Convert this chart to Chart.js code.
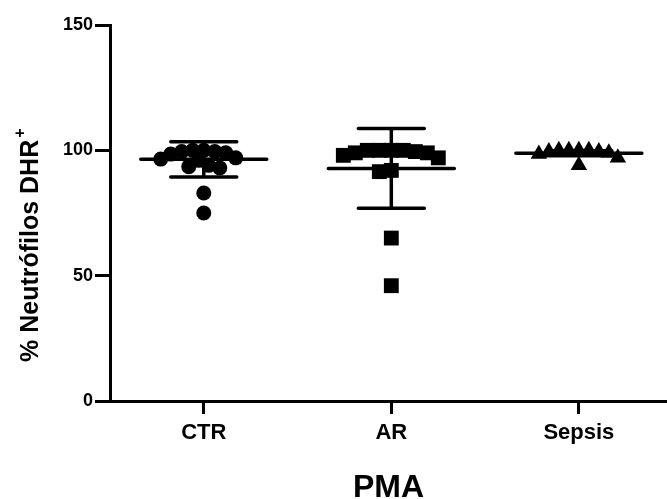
<!DOCTYPE html>
<html>
<head>
<meta charset="utf-8">
<script src="https://cdn.jsdelivr.net/npm/chart.js@4"></script>
<style>
html,body{margin:0;padding:0;background:#fff;overflow:hidden}
#wrap{width:667px;height:499px}
</style>
</head>
<body>
<div id="wrap"><canvas id="c" width="667" height="499"></canvas></div>
<script>
// ---- data ----
const categories = ['CTR', 'AR', 'Sepsis'];
const ctrValues = [100, 99.5, 99, 100, 99.5, 98.5, 97, 96, 96.5, 94, 93.5, 93, 83, 75];
const arValues = [100, 100, 99.5, 100, 99, 100, 99, 98, 97, 92, 91.5, 65, 46];
const sepsisValues = [100, 100, 99.5, 100, 99, 100, 98.5, 99.5, 97, 94];
const groupMeans = [96.4, 92.8, 98.8];
const groupSDs = [7.0, 15.9, 1.0];
const yTickValues = [0, 50, 100, 150];
const yTitleText = '% Neutrófilos DHR';
const yTitleSup = '+';
const xTitleText = 'PMA';

const FONT = 'Liberation Sans, Arial, sans-serif';
const groups = [ctrValues, arValues, sepsisValues];
const shapes = ['circle', 'rect', 'triangle'];
const radii = [7.5, 10.5, 9.5];
const minDist = [11, 12, 10];

const datasets = groups.map((vals, g) => ({
  label: categories[g],
  data: vals.map(v => ({x: g, y: v})),
  pointStyle: shapes[g],
  pointRadius: radii[g],
  pointHoverRadius: radii[g],
  backgroundColor: '#000',
  borderColor: '#000',
  borderWidth: 0,
  showLine: false
}));

const meanSdPlugin = {
  id: 'meanSd',
  afterDatasetsDraw(chart) {
    const xs = chart.scales.x, ys = chart.scales.y, ctx = chart.ctx;
    ctx.save();
    ctx.strokeStyle = '#000';
    ctx.lineWidth = 3.5;
    ctx.lineCap = 'round';
    groupMeans.forEach((m, g) => {
      const cx = xs.getPixelForValue(g);
      const ym = ys.getPixelForValue(m);
      const yt = ys.getPixelForValue(m + groupSDs[g]);
      const yb = ys.getPixelForValue(m - groupSDs[g]);
      ctx.beginPath();
      ctx.moveTo(cx - 63, ym); ctx.lineTo(cx + 63, ym);
      ctx.moveTo(cx, yt); ctx.lineTo(cx, yb);
      ctx.moveTo(cx - 33, yt); ctx.lineTo(cx + 33, yt);
      ctx.moveTo(cx - 33, yb); ctx.lineTo(cx + 33, yb);
      ctx.stroke();
    });
    ctx.restore();
  }
};

const yTitlePlugin = {
  id: 'yTitle',
  afterDraw(chart) {
    const ctx = chart.ctx;
    ctx.save();
    ctx.translate(31, 362);
    ctx.rotate(-Math.PI / 2);
    ctx.fillStyle = '#000';
    ctx.textBaseline = 'middle';
    ctx.textAlign = 'left';
    ctx.font = 'bold 25px ' + FONT;
    ctx.fillText(yTitleText, 0, 0);
    const w = ctx.measureText(yTitleText).width;
    ctx.font = 'bold 16px ' + FONT;
    ctx.fillText(yTitleSup, w + 2, -10);
    ctx.restore();
  }
};

const tickFont = {family: FONT, weight: 'bold'};

const chart = new Chart(document.getElementById('c'), {
  type: 'scatter',
  data: {datasets},
  plugins: [meanSdPlugin, yTitlePlugin],
  options: {
    responsive: false,
    animation: false,
    devicePixelRatio: 1,
    layout: {autoPadding: false, padding: {top: 25, right: 0, left: 0, bottom: 0}},
    plugins: {legend: {display: false}, tooltip: {enabled: false}},
    scales: {
      x: {
        type: 'linear', min: -0.5, max: 2.47,
        afterBuildTicks: s => { s.ticks = categories.map((c, i) => ({value: i})); },
        ticks: {
          callback: v => categories[v] !== undefined ? categories[v] : '',
          color: '#000', font: {...tickFont, size: 22}, padding: 6,
          maxRotation: 0, autoSkip: false
        },
        grid: {drawOnChartArea: false, drawTicks: true, tickLength: 13, color: '#000', lineWidth: 3},
        border: {display: true, color: '#000', width: 3},
        title: {display: true, text: xTitleText, color: '#000', font: {...tickFont, size: 32}, padding: {top: 0, bottom: -8}},
        afterFit: s => { s.height = 98; s.paddingRight = 0; s.paddingLeft = 0; }
      },
      y: {
        min: 0, max: 150,
        afterBuildTicks: s => { s.ticks = yTickValues.map(v => ({value: v})); },
        ticks: {color: '#000', font: {...tickFont, size: 18}, padding: 2},
        grid: {drawOnChartArea: false, drawTicks: true, tickLength: 15, color: '#000', lineWidth: 3},
        border: {display: true, color: '#000', width: 3},
        afterFit: s => { s.width = 110; s.paddingTop = 0; s.paddingBottom = 0; }
      }
    }
  }
});

// spread points sideways (beeswarm) so overlapping values sit next to each other
(function swarm() {
  const xs = chart.scales.x, ys = chart.scales.y;
  const ppu = xs.getPixelForValue(1) - xs.getPixelForValue(0);
  groups.forEach((vals, g) => {
    const placed = [];
    const order = vals.map((v, i) => i).sort((a, b) => vals[b] - vals[a]);
    order.forEach(i => {
      const py = ys.getPixelForValue(vals[i]);
      let off = 0;
      for (let k = 0; k < 400; k++) {
        const o = k === 0 ? 0 : (k % 2 ? -Math.ceil(k / 2) : Math.ceil(k / 2));
        if (placed.every(p => (o - p.o) ** 2 + (py - p.py) ** 2 >= minDist[g] ** 2)) { off = o; break; }
      }
      placed.push({o: off, py});
      chart.data.datasets[g].data[i].x = g + off / ppu;
    });
  });
  chart.update('none');
})();
</script>
</body>
</html>
